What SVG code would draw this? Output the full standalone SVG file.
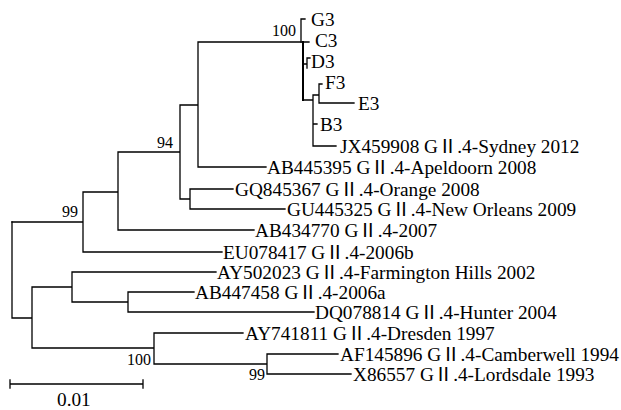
<svg xmlns="http://www.w3.org/2000/svg" width="621" height="410" viewBox="0 0 621 410">
<style>
.b{fill:none;stroke:#000;stroke-width:1.3;stroke-linecap:square}
.t{font-family:"Liberation Serif","Times New Roman","Noto Sans CJK SC",serif;font-size:19.3px;fill:#000}
.s{font-family:"Liberation Serif","Times New Roman",serif;font-size:16px;fill:#000;text-anchor:end}
</style>
<rect width="621" height="410" fill="#fff"/>
<g id="connectors" class="b">
<path d="M12,222 H83 M83,192 V252 M83,252 H222 M83,192 H118 M118,152 V230 M118,230 H254 M118,152 H180 M180,105 V199 M180,105 H198 M198,42 V167 M198,167 H266 M198,42 H309 M180,199 H190 M190,189 V209 M190,189 H233 M190,209 H285"/>
<path d="M301,19 V42 M301,19 H305 M303,64 H307 M307,58 V68 M307,58 H310 M303,100 H313 M313,95 V146 M313,95 H319 M319,84 V103 M319,84 H322 M319,103 H354 M313,124 H317 M313,146 H336"/>
<path d="M303,42 V100" stroke-width="2"/>
<path d="M12,222 V318 M12,318 H32 M32,287 V348 M32,287 H72 M72,272 V302 M72,272 H216 M72,302 H128 M128,292 V312 M128,292 H194 M128,312 H314 M32,348 H154 M154,333 V364 M154,333 H243 M154,364 H267 M267,354 V374 M267,354 H338 M267,374 H351"/>
<path d="M10,384 H143 M10,380 V388 M143,380 V388"/>
</g>
<g id="G3"><text class="t" x="311" y="26">G3</text></g>
<g id="C3"><text class="t" x="315" y="47">C3</text></g>
<g id="D3"><text class="t" x="311" y="68">D3</text></g>
<g id="F3"><text class="t" x="325" y="89">F3</text></g>
<g id="E3"><text class="t" x="358" y="110">E3</text></g>
<g id="B3"><text class="t" x="320" y="131">B3</text></g>
<g id="JX459908"><text class="t" x="340" y="153">JX459908 GⅡ.4-Sydney 2012</text></g>
<g id="AB445395"><text class="t" x="267" y="174">AB445395 GⅡ.4-Apeldoorn 2008</text></g>
<g id="GQ845367"><text class="t" x="235" y="196">GQ845367 GⅡ.4-Orange 2008</text></g>
<g id="GU445325"><text class="t" x="287" y="216">GU445325 GⅡ.4-New Orleans 2009</text></g>
<g id="AB434770"><text class="t" x="255" y="237">AB434770 GⅡ.4-2007</text></g>
<g id="EU078417"><text class="t" x="223" y="258.5">EU078417 GⅡ.4-2006b</text></g>
<g id="AY502023"><text class="t" x="217" y="278.5">AY502023 GⅡ.4-Farmington Hills 2002</text></g>
<g id="AB447458"><text class="t" x="195" y="299">AB447458 GⅡ.4-2006a</text></g>
<g id="DQ078814"><text class="t" x="315" y="319">DQ078814 GⅡ.4-Hunter 2004</text></g>
<g id="AY741811"><text class="t" x="245" y="340">AY741811 GⅡ.4-Dresden 1997</text></g>
<g id="AF145896"><text class="t" x="340" y="361">AF145896 GⅡ.4-Camberwell 1994</text></g>
<g id="X86557"><text class="t" x="353" y="381">X86557 GⅡ.4-Lordsdale 1993</text></g>
<g id="scale"><text class="t" x="57" y="406">0.01</text></g>
<g id="bootstrap">
<text class="s" x="296" y="36">100</text>
<text class="s" x="173" y="147.5">94</text>
<text class="s" x="78" y="217">99</text>
<text class="s" x="151" y="365">100</text>
<text class="s" x="265" y="380">99</text>
</g>
</svg>
